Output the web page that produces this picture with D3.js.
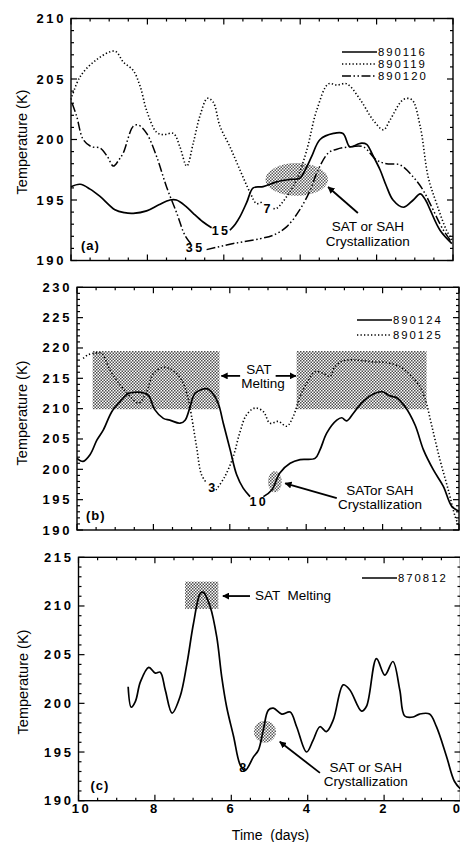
<!DOCTYPE html>
<html><head><meta charset="utf-8">
<script src="https://cdn.jsdelivr.net/npm/d3@7"></script>
<style>
body{margin:0;background:#fff}
svg{display:block}
text{font-family:"Liberation Sans",Arial,Helvetica,sans-serif;fill:#000}
</style>
</head><body>
<svg id="chart" width="460" height="842"></svg>
<script>
// ---------------- DATA ----------------
// time (days) , temperature (K)
const xTickLabels = [10, 8, 6, 4, 2, 0];
const yTicksA = [190, 195, 200, 205, 210];
const yTicksB = [190, 195, 200, 205, 210, 215, 220, 225, 230];
const yTicksC = [190, 195, 200, 205, 210, 215];

// Panel (a)
const a890116_1 = [[10,196.1],[9.76,196.3],[9.5,195.9],[9.24,195.3],[8.85,194.2],[8.6,193.95],[8.37,193.9],[8.02,194.1],[7.7,194.6],[7.41,195.0],[7.24,195.0],[7.0,194.5],[6.8,193.9],[6.55,193.2],[6.32,192.7]];
const a890116_2 = [[5.84,192.5],[5.7,193.0],[5.58,193.6],[5.4,194.8],[5.23,196.0],[4.97,196.1],[4.62,196.5],[4.27,196.7],[4.01,196.8],[3.85,197.6],[3.70,198.6],[3.48,200.0],[3.13,200.5],[2.88,200.5],[2.70,199.4],[2.5,199.6],[2.39,199.7],[2.26,199.6],[2.1,198.7],[1.91,197.5],[1.75,196.2],[1.57,195.0],[1.30,194.4],[1.04,195.0],[0.86,195.5],[0.72,195.0],[0.60,194.2],[0.34,192.5],[0.03,191.4]];
const a890119_1 = [[10,203.3],[9.76,205.2],[9.33,206.6],[8.85,207.3],[8.63,206.4],[8.37,205.7],[8.19,204.4],[8.02,202.4],[7.76,200.6],[7.58,200.4],[7.32,200.5],[7.15,199.4],[6.97,197.8],[6.80,199.7],[6.62,202.0],[6.43,203.4],[6.28,203.1],[6.10,201.1],[5.84,199.4],[5.58,197.5],[5.31,195.6],[5.14,194.7],[4.97,194.9]];
const a890119_2 = [[4.70,194.3],[4.62,194.3],[4.35,195.3],[4.09,196.7],[3.83,199.1],[3.57,202.4],[3.26,204.6],[3.04,204.5],[2.78,204.6],[2.43,203.3],[2.09,201.6],[1.82,200.8],[1.65,201.6],[1.30,203.3],[1.08,203.3],[0.86,201.1],[0.65,196.9],[0.43,194.7],[0.17,192.5],[0.0,191.6]];
const a890120_1 = [[9.97,203.0],[9.85,201.9],[9.68,200.0],[9.46,199.4],[9.24,199.3],[9.05,198.6],[8.89,197.8],[8.75,198.3],[8.63,198.9],[8.37,201.1],[8.24,201.2],[8.02,200.5],[7.76,198.6],[7.50,196.1],[7.23,193.9],[7.02,192.1],[6.84,191.3]];
const a890120_2 = [[6.45,190.9],[5.75,191.4],[5.05,191.8],[4.70,192.1],[4.35,192.8],[4.01,194.2],[3.74,195.8],[3.53,197.5],[3.26,198.9],[3.04,199.2],[2.70,199.4],[2.35,199.4],[2.00,198.3],[1.74,198.0],[1.39,197.9],[1.04,196.9],[0.78,195.8],[0.60,194.7],[0.25,192.5],[0.03,191.5]];

// Panel (b)
const b890124_1 = [[10,201.8],[9.84,201.3],[9.66,202.4],[9.48,204.8],[9.31,206.5],[9.09,209.5],[8.87,211.2],[8.66,212.5],[8.48,212.7],[8.26,212.6],[8.13,212.2],[7.96,209.8],[7.74,208.4],[7.57,208.1],[7.30,207.6],[7.17,208.1],[7.04,210.3],[6.91,212.5],[6.60,213.3],[6.47,212.7],[6.30,210.8],[6.17,207.6],[5.99,203.2],[5.82,199.1],[5.65,196.9],[5.47,195.5]];
const b890124_2 = [[5.12,195.5],[4.90,196.6],[4.69,199.4],[4.42,201.0],[4.16,201.6],[3.77,201.8],[3.64,203.2],[3.46,206.0],[3.20,208.1],[3.07,208.5],[2.94,208.0],[2.77,209.2],[2.51,211.2],[2.24,212.4],[2.02,212.8],[1.81,212.1],[1.63,211.8],[1.41,210.3],[1.15,207.3],[0.93,203.2],[0.67,199.9],[0.41,197.2],[0.19,193.9],[0.0,193.1]];
const b890125_1 = [[9.84,218.3],[9.70,218.9],[9.48,219.2],[9.35,219.1],[9.14,216.4],[8.87,213.9],[8.61,212.0],[8.39,210.9],[8.18,212.7],[8.00,215.8],[7.74,216.8],[7.52,216.4],[7.26,214.7],[7.09,211.7],[7.00,208.7],[6.87,203.7],[6.74,199.1],[6.60,197.7]];
const b890125_2 = [[6.36,196.6],[6.13,198.8],[5.91,202.1],[5.74,206.0],[5.56,209.0],[5.34,210.1],[5.12,209.5],[4.95,207.6],[4.73,207.9],[4.51,207.1],[4.34,208.7],[4.16,212.0],[3.94,214.7],[3.77,216.1],[3.55,215.8],[3.38,215.3],[3.25,216.9],[3.03,217.9],[2.68,218.0],[2.24,217.7],[1.89,217.6],[1.54,216.9],[1.28,215.6],[1.02,213.6],[0.89,211.7],[0.71,207.1],[0.50,201.6],[0.28,196.6],[0.10,192.2],[0.0,190.6]];

// Panel (c)
const c870812 = [[8.70,201.7],[8.62,199.6],[8.51,200.2],[8.38,202.2],[8.16,203.7],[7.99,203.1],[7.86,203.2],[7.73,201.4],[7.55,199.0],[7.34,200.7],[7.16,204.1],[6.99,208.2],[6.81,211.3],[6.73,211.4],[6.55,209.9],[6.38,206.8],[6.25,202.7],[6.12,199.6],[5.94,196.6],[5.77,193.7],[5.64,193.1],[5.42,194.5],[5.29,195.2],[5.16,197.3],[5.03,199.3],[4.90,199.5],[4.68,198.9],[4.46,199.1],[4.29,197.6],[4.03,195.0],[3.86,196.2],[3.68,197.6],[3.51,197.1],[3.33,198.3],[3.07,201.9],[2.90,201.4],[2.59,199.2],[2.46,199.7],[2.20,204.6],[1.98,202.9],[1.77,204.3],[1.59,201.4],[1.46,198.7],[1.24,198.6],[1.07,198.9],[0.81,198.9],[0.63,197.6],[0.37,194.6],[0.16,192.0],[0.0,191.2]];

// ---------------- DRAW ----------------
const svg = d3.select("#chart");
const defs = svg.append("defs");
const pat = defs.append("pattern").attr("id","stip").attr("patternUnits","userSpaceOnUse")
  .attr("width",3).attr("height",3);
pat.append("rect").attr("width",3).attr("height",3).attr("fill","#fff");
pat.append("rect").attr("x",0).attr("y",0).attr("width",1.5).attr("height",1.5).attr("fill","#222");
pat.append("rect").attr("x",1.5).attr("y",1.5).attr("width",1.5).attr("height",1.5).attr("fill","#222");
defs.append("marker").attr("id","ah").attr("viewBox","0 0 10 10").attr("refX",9).attr("refY",5)
  .attr("markerWidth",7).attr("markerHeight",7).attr("markerUnits","userSpaceOnUse").attr("orient","auto")
  .append("path").attr("d","M0,0 L10,5 L0,10 Z").attr("fill","#000");

const styles = {
  solid:{dash:null,w:1.7},
  dot:{dash:"1.3,2.2",w:1.6},
  dashdot:{dash:"9,2.5,1.5,2.5,1.5,2.5",w:1.5}
};

function makePanel(cfg){
  const x = d3.scaleLinear().domain([10,0]).range([cfg.left, cfg.left+382]);
  const y = d3.scaleLinear().domain(cfg.yDomain).range([cfg.bottom, cfg.top]);
  const g = svg.append("g");
  const W = x.range();

  (cfg.rects||[]).forEach(r=>{
    g.append("rect").attr("x",x(r.x0)).attr("y",y(r.y1))
      .attr("width",x(r.x1)-x(r.x0)).attr("height",y(r.y0)-y(r.y1)).attr("fill","url(#stip)").attr("opacity",0.8);
  });
  (cfg.ellipses||[]).forEach(e=>{
    g.append("ellipse").attr("cx",x(e.cx)).attr("cy",y(e.cy))
      .attr("rx",Math.abs(x(e.cx+e.rx)-x(e.cx))).attr("ry",Math.abs(y(e.cy+e.ry)-y(e.cy)))
      .attr("fill","url(#stip)").attr("opacity",0.75);
  });

  const line = d3.line().x(d=>x(d[0])).y(d=>y(d[1])).curve(d3.curveCatmullRom.alpha(0.5));
  cfg.series.forEach(s=>{
    const st = styles[s.style];
    g.append("path").attr("d",line(s.data)).attr("fill","none").attr("stroke","#000")
      .attr("stroke-width",st.w).attr("stroke-dasharray",st.dash).attr("stroke-linejoin","round");
  });

  g.append("rect").attr("x",W[0]).attr("y",cfg.top).attr("width",W[1]-W[0]).attr("height",cfg.bottom-cfg.top)
    .attr("fill","none").attr("stroke","#000").attr("stroke-width",1.4);

  const xMinor = d3.range(0,10.01,0.5), yMinor = d3.range(cfg.yDomain[0], cfg.yDomain[1]+0.01, 1);
  xMinor.forEach(t=>{
    const L = (Math.abs(t%2)<1e-6)?6:3;
    g.append("line").attr("x1",x(t)).attr("x2",x(t)).attr("y1",cfg.bottom).attr("y2",cfg.bottom-L).attr("stroke","#000").attr("stroke-width",1.2);
    g.append("line").attr("x1",x(t)).attr("x2",x(t)).attr("y1",cfg.top).attr("y2",cfg.top+L).attr("stroke","#000").attr("stroke-width",1.2);
  });
  yMinor.forEach(t=>{
    const L = (Math.abs(t%5)<1e-6)?6:3;
    g.append("line").attr("x1",W[0]).attr("x2",W[0]+L).attr("y1",y(t)).attr("y2",y(t)).attr("stroke","#000").attr("stroke-width",1.2);
    g.append("line").attr("x1",W[1]).attr("x2",W[1]-L).attr("y1",y(t)).attr("y2",y(t)).attr("stroke","#000").attr("stroke-width",1.2);
  });
  cfg.yTicks.forEach(t=>{
    g.append("text").attr("x",W[0]-5).attr("y",y(t)+4.5).attr("text-anchor","end")
      .attr("font-size",13).attr("font-weight","bold").attr("letter-spacing","2.6").text(t);
  });
  if(cfg.xLabels){
    xTickLabels.forEach(t=>{
      const anchor = t===0 ? "end" : "middle";
      g.append("text").attr("x",t===0 ? 460 : x(t)+(t===10?3:0)).attr("y",cfg.bottom+12).attr("text-anchor",anchor)
        .attr("font-size",13).attr("font-weight","bold").attr("letter-spacing",t===0?"0":"2.6").text(t);
    });
    g.append("text").attr("x",x(5)+1).attr("y",cfg.bottom+39).attr("text-anchor","middle")
      .attr("font-size",14).attr("xml:space","preserve").text("Time  (days)");
  }
  g.append("text").attr("transform",`translate(${cfg.ytx},${cfg.yty}) rotate(-90)`).attr("text-anchor","middle")
    .attr("font-size",14.5).text("Temperature (K)");
  g.append("text").attr("x",W[0]+cfg.tag[0]).attr("y",cfg.bottom-cfg.tag[1]).attr("font-size",13).attr("font-weight","bold")
    .attr("letter-spacing","1").text(cfg.tagText);

  cfg.legend.forEach((l,i)=>{
    const ly = cfg.legendY + i*cfg.legendDy;
    g.append("line").attr("x1",cfg.legendX).attr("x2",cfg.legendX+35).attr("y1",ly).attr("y2",ly)
      .attr("stroke","#000").attr("stroke-width",styles[l.style].w).attr("stroke-dasharray",styles[l.style].dash);
    g.append("text").attr("x",cfg.legendX+36).attr("y",ly+4).attr("font-size",11.3).attr("letter-spacing","2").text(l.name);
  });

  (cfg.nums||[]).forEach(n=>{
    g.append("text").attr("x",x(n.x)).attr("y",y(n.y)).attr("text-anchor","middle").attr("font-size",12.5)
      .attr("font-weight","bold").attr("letter-spacing","2.5").text(n.t);
  });
  (cfg.notes||[]).forEach(n=>{
    g.append("text").attr("x",x(n.x)).attr("y",y(n.y)).attr("text-anchor",n.anchor||"middle").attr("font-size",13.5)
      .attr("xml:space","preserve").text(n.t);
  });
  (cfg.arrows||[]).forEach(a=>{
    g.append("line").attr("x1",x(a.x0)).attr("y1",y(a.y0)).attr("x2",x(a.x1)).attr("y2",y(a.y1))
      .attr("stroke","#000").attr("stroke-width",1.8).attr("marker-end","url(#ah)");
  });
}

makePanel({
  left:71, top:18.5, bottom:260.5, yDomain:[190,210], yTicks:yTicksA, ytx:27, yty:142, tag:[10,11], tagText:"(a)",
  series:[
    {data:a890116_1,style:"solid"},{data:a890116_2,style:"solid"},
    {data:a890119_1,style:"dot"},{data:a890119_2,style:"dot"},
    {data:a890120_1,style:"dashdot"},{data:a890120_2,style:"dashdot"}
  ],
  legend:[{name:"890116",style:"solid"},{name:"890119",style:"dot"},{name:"890120",style:"dashdot"}],
  legendX:342, legendY:52, legendDy:12,
  ellipses:[{cx:4.09,cy:196.7,rx:0.82,ry:1.35}],
  nums:[{x:6.07,y:192.1,t:"15"},{x:4.84,y:193.93,t:"7"},{x:6.75,y:190.74,t:"35"}],
  notes:[{x:2.23,y:192.45,t:"SAT or SAH"},{x:2.23,y:191.2,t:"Crystallization"}],
  arrows:[{x0:2.49,y0:193.93,x1:3.27,y1:196.07}]
});

makePanel({
  left:77, top:287.3, bottom:530, yDomain:[190,230], yTicks:yTicksB, ytx:27, yty:413, tag:[9,10], tagText:"(b)",
  series:[
    {data:b890124_1,style:"solid"},{data:b890124_2,style:"solid"},
    {data:b890125_1,style:"dot"},{data:b890125_2,style:"dot"}
  ],
  legend:[{name:"890124",style:"solid"},{name:"890125",style:"dot"}],
  legendX:357, legendY:320, legendDy:15,
  rects:[{x0:9.59,x1:6.27,y0:209.9,y1:219.5},{x0:4.25,x1:0.85,y0:209.9,y1:219.5}],
  ellipses:[{cx:4.82,cy:197.97,rx:0.18,ry:1.75}],
  nums:[{x:6.44,y:196.28,t:"3"},{x:5.24,y:193.97,t:"10"}],
  notes:[{x:5.24,y:215.7,t:"SAT"},{x:5.13,y:213.4,t:"Melting"},{x:2.07,y:195.75,t:"SATor SAH"},{x:2.07,y:193.45,t:"Crystallization"}],
  arrows:[{x0:5.73,y0:215.4,x1:6.22,y1:215.4},{x0:4.80,y0:215.4,x1:4.27,y1:215.4},{x0:3.20,y0:195.24,x1:4.55,y1:197.7}]
});

makePanel({
  left:78.5, top:557.3, bottom:800.7, yDomain:[190,215], yTicks:yTicksC, ytx:28, yty:682, tag:[12,11], tagText:"(c)", xLabels:true,
  series:[{data:c870812,style:"solid"}],
  legend:[{name:"870812",style:"solid"}],
  legendX:362, legendY:578, legendDy:15,
  rects:[{x0:7.21,x1:6.34,y0:209.7,y1:212.5}],
  ellipses:[{cx:5.12,cy:197.08,rx:0.29,ry:1.13}],
  nums:[{x:5.67,y:192.93,t:"8"}],
  notes:[{x:5.38,y:210.61,t:"SAT  Melting",anchor:"start"},{x:2.48,y:192.95,t:"SAT or SAH"},{x:2.48,y:191.5,t:"Crystallization"}],
  arrows:[{x0:5.51,y0:211.02,x1:6.22,y1:211.02},{x0:3.68,y0:192.86,x1:4.73,y1:196.05}]
});
</script>
</body></html>
